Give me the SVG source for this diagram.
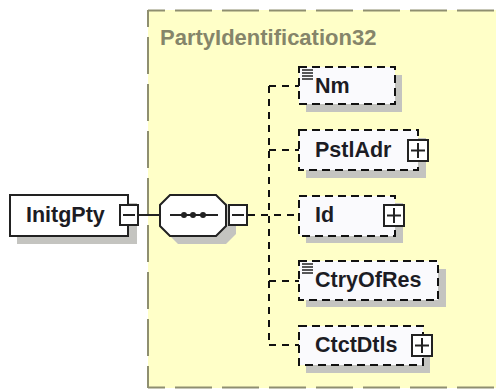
<svg xmlns="http://www.w3.org/2000/svg" width="496" height="389" viewBox="0 0 496 389">
<style>
text{font-family:"Liberation Sans",Arial,sans-serif;font-weight:700;font-size:21.5px;fill:#1c1c24}
.shadow{fill:#c4c4c0}
.solid{fill:#fff;stroke:#222;stroke-width:2}
.opt{fill:#fafafd;stroke:#111;stroke-width:2;stroke-dasharray:8 5}
.conn{fill:none;stroke:#111;stroke-width:2;stroke-dasharray:7 6}
.line{fill:none;stroke:#222;stroke-width:2}
.icon{fill:none;stroke:#222;stroke-width:1.5}
.edge{fill:none;stroke:#8f8f70;stroke-width:2;stroke-dasharray:37 10}
</style>
<defs>
<g id="plus"><rect class="solid" x="0" y="0" width="20" height="21"/><path class="line" d="M3 10.5H17M10 3V18"/></g>
<g id="minus"><rect class="solid" x="0" y="0" width="18" height="20"/><path class="line" d="M3 10H15"/></g>
<path id="many" class="icon" d="M0 0H11M0 3H11M0 6H11M0 9H11"/>
</defs>
<rect width="496" height="389" fill="#fff"/>
<g id="type-box">
<rect x="148" y="10" width="348" height="378" fill="#ffffc8"/>
<path class="edge" stroke-dashoffset="20" d="M148 10.500H496"/>
<path class="edge" stroke-dashoffset="20" d="M148 10V388"/>
<path class="edge" stroke-dashoffset="20" d="M148 387.500H496"/>
<text x="160" y="45" style="fill:#85856a;font-size:22px">PartyIdentification32</text>
</g>
<g id="connectors">
<path class="line" d="M138 215H160"/>
<path class="conn" d="M248 215H299M269 86V345M269 86H299M269 150H299M269 281H299M269 345H299"/>
</g>
<g id="InitgPty">
<rect class="shadow" x="17" y="203" width="120" height="41"/>
<rect class="solid" x="10" y="195" width="118" height="41"/>
<text x="26" y="222">InitgPty</text>
<use href="#minus" x="120" y="205"/>
</g>
<g id="sequence">
<path class="shadow" d="M178 203H226L236 213V234L226 244H178L168 234V213Z"/>
<path class="solid" d="M170 195H216L226 205V226L216 236H170L160 226V205Z"/>
<path class="line" d="M170 215H218"/>
<circle cx="184" cy="215" r="3" fill="#222"/><circle cx="193" cy="215" r="3" fill="#222"/><circle cx="203" cy="215" r="3" fill="#222"/>
<use href="#minus" x="229" y="205"/>
</g>
<g id="Nm">
<rect class="shadow" x="306" y="75" width="96" height="37"/>
<rect class="opt" x="299" y="67" width="96" height="37"/>
<use href="#many" x="302" y="70"/>
<text x="315" y="93">Nm</text>
</g>
<g id="PstlAdr">
<rect class="shadow" x="306" y="138" width="120" height="40"/>
<rect class="opt" x="299" y="130" width="119" height="40"/>
<text x="315" y="157">PstlAdr</text>
<use href="#plus" x="408" y="140"/>
</g>
<g id="Id">
<rect class="shadow" x="306" y="203" width="97" height="40"/>
<rect class="opt" x="299" y="196" width="96" height="40"/>
<text x="315" y="222">Id</text>
<use href="#plus" x="384" y="205"/>
</g>
<g id="CtryOfRes">
<rect class="shadow" x="306" y="269" width="140" height="38"/>
<rect class="opt" x="299" y="261" width="139" height="39"/>
<use href="#many" x="302" y="264"/>
<text x="315" y="287">CtryOfRes</text>
</g>
<g id="CtctDtls">
<rect class="shadow" x="306" y="334" width="124" height="39"/>
<rect class="opt" x="299" y="326" width="124" height="39"/>
<text x="315" y="352">CtctDtls</text>
<use href="#plus" x="412" y="335"/>
</g>
</svg>
